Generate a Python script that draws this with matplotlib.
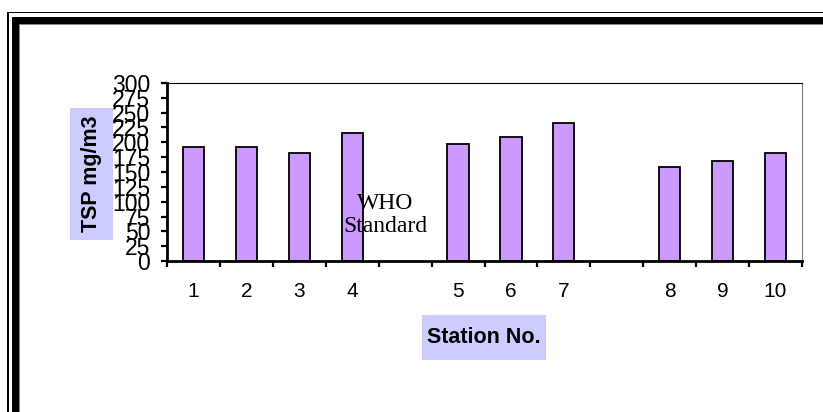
import matplotlib.pyplot as plt
from matplotlib.patches import Rectangle

# TSP readings per station; None marks the empty gaps between station groups
categories = ['1', '2', '3', '4', '', '5', '6', '7', '', '8', '9', '10']
tsp_values = [192, 192, 181.5, 216, None, 198, 209, 232.5, None, 158, 169, 182]
y_ticks = list(range(0, 301, 25))

W, H = 823, 412
fig = plt.figure(figsize=(W / 100, H / 100), dpi=100)


def px_rect(x, y, w, h, **kw):
    # rectangle given in pixel coords from the top-left corner
    r = Rectangle((x / W, 1 - (y + h) / H), w / W, h / H,
                  transform=fig.transFigure, linewidth=0, **kw)
    fig.add_artist(r)
    return r


# double frame around the chart
px_rect(7, 12, W, 1.3, color='black')
px_rect(7, 12, 2, H, color='black')
px_rect(12, 16.7, W, 7.3, color='black')
px_rect(12, 16.7, 6.7, H, color='black')
px_rect(18.7, 24, W, 1, color='#888888')
px_rect(18.7, 24, 1, H, color='#888888')

ax = fig.add_axes([167 / W, 1 - 261 / H, 635 / W, 178 / H])

xs = [i for i, v in enumerate(tsp_values) if v is not None]
vals = [v for v in tsp_values if v is not None]
ax.bar(xs, vals, width=0.4, color='#CC99FF', edgecolor='black', linewidth=1.3, zorder=2)

ax.set_xlim(-0.5, len(categories) - 0.5)
ax.set_ylim(0, 300)

# ticks on category boundaries, labels at category centres
ax.set_xticks([i - 0.5 for i in range(len(categories) + 1)])
ax.set_xticklabels([])
ax.set_xticks(range(len(categories)), minor=True)
ax.set_xticklabels(categories, minor=True, fontsize=15, family=['Liberation Sans', 'DejaVu Sans'])
ax.tick_params(axis='x', which='major', direction='out', length=4.5, width=1.6)
ax.tick_params(axis='x', which='minor', length=0, pad=15)

ax.set_yticks(y_ticks)
ax.set_yticklabels([str(t) for t in y_ticks], fontsize=16.5,
                   family=['Liberation Sans Narrow', 'Liberation Sans'])
ax.tick_params(axis='y', direction='out', length=4, width=1.6, pad=8)

ax.spines['bottom'].set_linewidth(2)
ax.spines['left'].set_linewidth(2)
ax.spines['top'].set_linewidth(0.8)
ax.spines['right'].set_linewidth(0.8)
ax.spines['right'].set_color('#808080')

ax.text(3.62, 78, 'WHO\nStandard', ha='center', va='center', fontsize=17,
        family='Liberation Serif', linespacing=1.15, zorder=5)

# axis titles on shaded boxes
px_rect(70, 108, 43, 132, color='#CCCCFF')
fig.text(91.5 / W, 1 - 174 / H, 'TSP mg/m3', rotation=90, ha='center', va='center',
         fontsize=15.5, fontweight='bold', family='Liberation Sans')
px_rect(422, 315, 124, 45, color='#CCCCFF')
fig.text(484 / W, 1 - 337.5 / H, 'Station No.', ha='center', va='center',
         fontsize=15.5, fontweight='bold', family='Liberation Sans')

fig.savefig('out.png', dpi=100)
